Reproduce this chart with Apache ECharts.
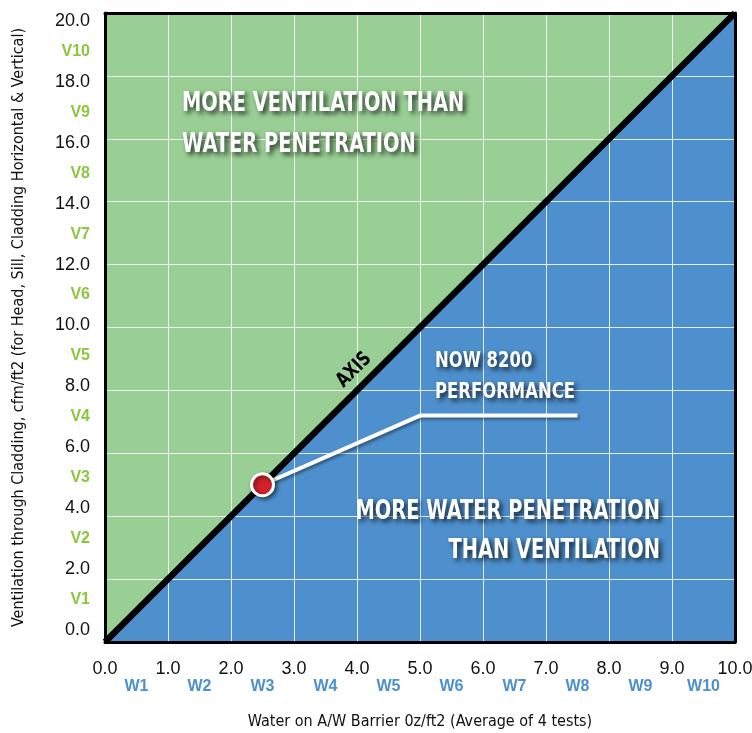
<!DOCTYPE html>
<html>
<head>
<meta charset="utf-8">
<script src="https://cdn.jsdelivr.net/npm/echarts@6/dist/echarts.min.js"></script>
<style>
html,body{margin:0;padding:0;background:#fff;}
#main{width:752px;height:733px;}
</style>
</head>
<body>
<div id="main"></div>
<script>
// ---- data ----
const xTickLabels = ['0.0','1.0','2.0','3.0','4.0','5.0','6.0','7.0','8.0','9.0','10.0'];
const wLabels = ['W1','W2','W3','W4','W5','W6','W7','W8','W9','W10'];
const wPositions = [0.5,1.5,2.5,3.5,4.5,5.5,6.5,7.5,8.5,9.5];
const yTickLabels = ['0.0','2.0','4.0','6.0','8.0','10.0','12.0','14.0','16.0','18.0','20.0'];
const vLabels = ['V1','V2','V3','V4','V5','V6','V7','V8','V9','V10'];
const yLabelPositions = [0,1,2,3,4,5,6,7,8,9,10,11,12,13,14,15,16,17,18,19,20];
const axisDiagonal = [[0,0],[10,20]];
const performancePoint = [[2.5,5.0]];
const calloutLine = [[2.5,5.0],[5.0,7.2],[7.5,7.2]];

const FONT = '"DejaVu Sans Condensed","Liberation Sans",sans-serif';
const NUMFONT = '"Liberation Sans",sans-serif';
const GREEN = '#99cf94';
const BLUE = '#4e90cd';

const chart = echarts.init(document.getElementById('main'), null, {renderer:'canvas'});

const shadow = {textShadowColor:'rgba(0,0,0,0.75)', textShadowBlur:5, textShadowOffsetX:3, textShadowOffsetY:3};
function bigText(text, x, y, align, size, sx){
  return {type:'text', x:x, y:y, z:100, scaleX:sx, style:Object.assign({
    text:text, fill:'#fff', font:'bold '+size+'px '+FONT, align:align, verticalAlign:'middle'
  }, shadow)};
}

const option = {
  animation:false,
  backgroundColor:'#fff',
  grid:{left:105, right:17, top:13, bottom:91, containLabel:false, outerBoundsMode:'none'},
  xAxis:[
    {type:'value', min:0, max:10, interval:1, position:'bottom', z:2,
     axisLine:{show:true, onZero:false, lineStyle:{color:'#000', width:3}},
     axisTick:{show:false},
     splitLine:{show:true, lineStyle:{color:'rgba(255,255,255,0.85)', width:1}},
     axisLabel:{color:'#111', fontFamily:NUMFONT, fontSize:18, margin:18,
       formatter:function(v){ return xTickLabels[Math.round(v)]; }},
     name:'Water on A/W Barrier 0z/ft2 (Average of 4 tests)', nameLocation:'middle', nameGap:72,
     nameTextStyle:{color:'#111', fontFamily:FONT, fontSize:16}
    },
    {type:'value', min:0, max:10, position:'bottom', offset:20, z:2,
     axisLine:{show:false}, axisTick:{show:false}, splitLine:{show:false},
     axisLabel:{color:'#4e90cd', fontWeight:'bold', fontFamily:NUMFONT, fontSize:16, margin:17,
       customValues:wPositions,
       formatter:function(v){ const i = wPositions.indexOf(v); return i>=0 ? wLabels[i] : ''; }}
    },
    {type:'value', min:0, max:10, position:'top', z:6,
     axisLine:{show:true, onZero:false, lineStyle:{color:'#000', width:3}},
     axisTick:{show:false}, axisLabel:{show:false}, splitLine:{show:false}}
  ],
  yAxis:[
    {type:'value', min:0, max:20, interval:2, position:'left', z:2,
     axisLine:{show:true, onZero:false, lineStyle:{color:'#000', width:3}},
     axisTick:{show:false}, axisLabel:{show:false},
     splitLine:{show:true, lineStyle:{color:'rgba(255,255,255,0.85)', width:1}},
     name:'Ventilation through Cladding, cfm/ft2 (for Head, Sill, Cladding Horizontal & Vertical)',
     nameLocation:'middle', nameGap:78,
     nameTextStyle:{color:'#111', fontFamily:FONT, fontSize:16}
    },
    {type:'value', min:-0.394, max:20.263, position:'left', z:2,
     axisLine:{show:false}, axisTick:{show:false}, splitLine:{show:false},
     axisLabel:{margin:15, customValues:yLabelPositions,
       formatter:function(v){
         const r = Math.round(v);
         if (r % 2 === 0) return '{n|' + yTickLabels[r/2] + '}';
         return '{v|' + vLabels[(r-1)/2] + '}';
       },
       rich:{
         n:{color:'#111', fontFamily:NUMFONT, fontSize:18},
         v:{color:'#8cc63f', fontFamily:NUMFONT, fontSize:16, fontWeight:'bold'}
       }}
    },
    {type:'value', min:0, max:20, position:'right', z:6,
     axisLine:{show:true, onZero:false, lineStyle:{color:'#000', width:3}},
     axisTick:{show:false}, axisLabel:{show:false}, splitLine:{show:false}}
  ],
  series:[
    {type:'line', name:'water', data:axisDiagonal, xAxisIndex:0, yAxisIndex:0, z:1,
     symbol:'none', lineStyle:{width:0}, areaStyle:{color:BLUE, opacity:1, origin:'start'}},
    {type:'line', name:'ventilation', data:axisDiagonal, xAxisIndex:0, yAxisIndex:0, z:1,
     symbol:'none', lineStyle:{width:0}, areaStyle:{color:GREEN, opacity:1, origin:'end'}},
    {type:'line', name:'axis', data:axisDiagonal, xAxisIndex:0, yAxisIndex:0, z:3,
     symbol:'none', lineStyle:{color:'#000', width:6.5}},
    {type:'line', name:'callout', data:calloutLine, xAxisIndex:0, yAxisIndex:0, z:4,
     symbol:'none', lineStyle:{color:'#fff', width:4, shadowColor:'rgba(0,0,0,0.4)', shadowBlur:3, shadowOffsetX:2, shadowOffsetY:2}},
    {type:'scatter', name:'NOW 8200', data:performancePoint, xAxisIndex:0, yAxisIndex:0, z:5,
     symbol:'circle', symbolSize:22,
     itemStyle:{color:'#d4202a', borderColor:'#fff', borderWidth:3, opacity:1,
       shadowColor:'rgba(0,0,0,0.5)', shadowBlur:4, shadowOffsetX:2, shadowOffsetY:2}}
  ],
  graphic:[
    bigText('MORE VENTILATION THAN', 182, 104, 'left', 26, 0.83),
    bigText('WATER PENETRATION', 182, 145, 'left', 26, 0.83),
    bigText('MORE WATER PENETRATION', 660, 512, 'right', 26, 0.83),
    bigText('THAN VENTILATION', 660, 551, 'right', 26, 0.83),
    bigText('NOW 8200', 435, 362, 'left', 21, 0.87),
    bigText('PERFORMANCE', 435, 393, 'left', 21, 0.87),
    {type:'text', x:354, y:370, rotation:Math.PI/4, z:100, scaleX:0.85,
     style:{text:'AXIS', fill:'#000', font:'bold 20px '+FONT, align:'center', verticalAlign:'middle'}}
  ]
};
chart.setOption(option);
</script>
</body>
</html>
